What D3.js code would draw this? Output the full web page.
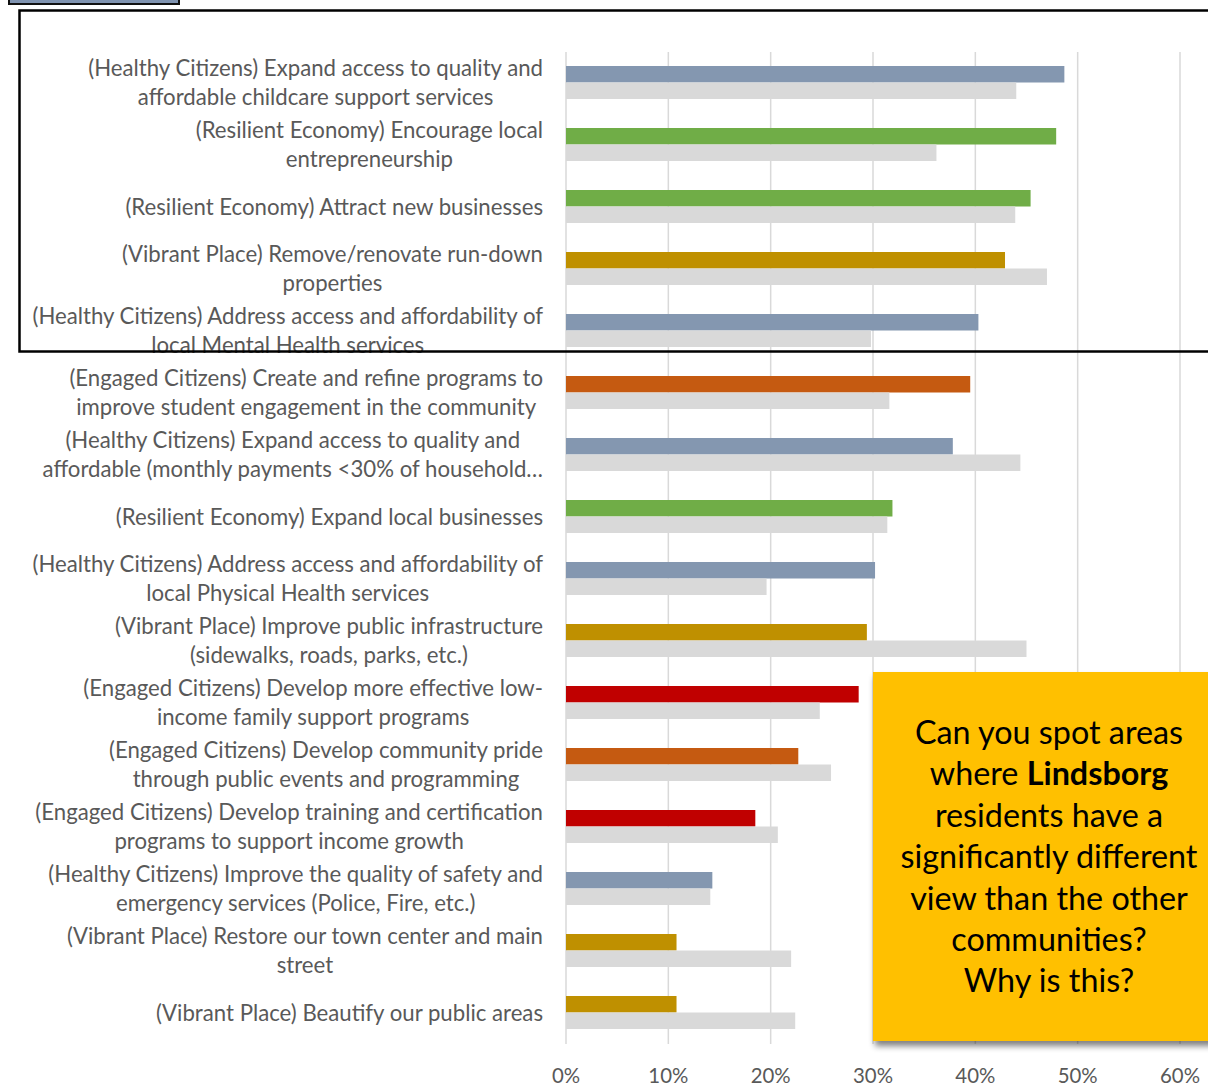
<!DOCTYPE html>
<html><head><meta charset="utf-8">
<script src="https://cdn.jsdelivr.net/npm/d3@7/dist/d3.min.js"></script>
<style>
html,body{margin:0;padding:0;background:#fff;}
svg{display:block;}
</style></head>
<body>
<script>
const categories = [
  "(Healthy Citizens) Expand access to quality and|affordable childcare support services",
  "(Resilient Economy) Encourage local|entrepreneurship",
  "(Resilient Economy) Attract new businesses",
  "(Vibrant Place) Remove/renovate run-down|properties",
  "(Healthy Citizens) Address access and affordability of|local Mental Health services",
  "(Engaged Citizens) Create and refine programs to|improve student engagement in the community",
  "(Healthy Citizens) Expand access to quality and|affordable (monthly payments <30% of household…",
  "(Resilient Economy) Expand local businesses",
  "(Healthy Citizens) Address access and affordability of|local Physical Health services",
  "(Vibrant Place) Improve public infrastructure|(sidewalks, roads, parks, etc.)",
  "(Engaged Citizens) Develop more effective low-|income family support programs",
  "(Engaged Citizens) Develop community pride|through public events and programming",
  "(Engaged Citizens) Develop training and certification|programs to support income growth",
  "(Healthy Citizens) Improve the quality of safety and|emergency services (Police, Fire, etc.)",
  "(Vibrant Place) Restore our town center and main|street",
  "(Vibrant Place) Beautify our public areas"
];
const themes = ["Healthy","Resilient","Resilient","Vibrant","Healthy","EngagedA","Healthy","Resilient","Healthy","Vibrant","EngagedB","EngagedA","EngagedB","Healthy","Vibrant","Vibrant"];
const lindsborg = [0.487,0.479,0.454,0.429,0.403,0.395,0.378,0.319,0.302,0.294,0.286,0.227,0.185,0.143,0.108,0.108];
const others    = [0.440,0.362,0.439,0.470,0.298,0.316,0.444,0.314,0.196,0.450,0.248,0.259,0.207,0.141,0.220,0.224];
const ticks = [0,0.1,0.2,0.3,0.4,0.5,0.6];
const themeColors = {Healthy:"#8497B0",Resilient:"#70AD47",Vibrant:"#BF9000",EngagedA:"#C55A11",EngagedB:"#C00000"};
const otherColor = "#D9D9D9";
const calloutLines = [["Can you spot areas"],["where ","Lindsborg"],["residents have a"],["significantly different"],["view than the other"],["communities?"],["Why is this?"]];

const W=1208,H=1090;
const svg=d3.select("body").append("svg").attr("width",W).attr("height",H);
const font="Lato, 'Open Sans', sans-serif";

// size font so that a reference string matches its width in the picture
function fitSize(str,target,base){
  const t=svg.append("text").attr("font-family",font).attr("font-size",base).text(str);
  const w=t.node().getComputedTextLength(); t.remove();
  return base*target/w;
}
const labelSize=fitSize("(Healthy Citizens) Expand access to quality and",455,20);
const calloutSize=fitSize("significantly different",297,30);
const tickSize=fitSize("60%",40,20);

const x=d3.scaleLinear().domain([0,0.6]).range([566,1180]);
const y=d3.scaleBand().domain(d3.range(categories.length)).range([52,1044]).paddingInner(0).paddingOuter(0);
const barH=16.5;

// gridlines
svg.append("g").selectAll("line").data(ticks).join("line")
  .attr("x1",d=>x(d)).attr("x2",d=>x(d)).attr("y1",52).attr("y2",1044)
  .attr("stroke","#D9D9D9").attr("stroke-width",1.5);

// bars
const g=svg.append("g");
g.selectAll("rect.l").data(lindsborg).join("rect").attr("class","l")
  .attr("x",x(0)).attr("y",(d,i)=>y(i)+14).attr("width",d=>x(d)-x(0)).attr("height",barH)
  .attr("fill",(d,i)=>themeColors[themes[i]]);
g.selectAll("rect.o").data(others).join("rect").attr("class","o")
  .attr("x",x(0)).attr("y",(d,i)=>y(i)+14+barH).attr("width",d=>x(d)-x(0)).attr("height",barH)
  .attr("fill",otherColor);

// axis labels
svg.append("g").selectAll("text").data(ticks).join("text")
  .attr("x",d=>x(d)).attr("y",1083).attr("text-anchor","middle")
  .attr("font-family",font).attr("font-size",tickSize).attr("fill","#595959")
  .text(d=>d3.format(".0%")(d));

// category labels
const lab=svg.append("g");
categories.forEach((c,i)=>{
  const lines=c.split("|");
  const cy=y(i)+y.bandwidth()/2;
  const grp=lab.append("g");
  const texts=lines.map((ln,j)=>grp.append("text")
    .attr("y",cy+(j-(lines.length-1)/2)*29.5+7.5)
    .attr("font-family",font).attr("font-size",labelSize).attr("fill","#595959")
    .attr("text-anchor","middle").text(ln));
  const widths=texts.map(t=>t.node().getComputedTextLength());
  const maxW=d3.max(widths);
  const cx=543-maxW/2;
  texts.forEach(t=>t.attr("x",cx));
});

// big border rectangle
svg.append("rect").attr("x",19.5).attr("y",10.5).attr("width",1200).attr("height",341)
  .attr("fill","none").attr("stroke","#000").attr("stroke-width",2.5);
// small top-left box
svg.append("rect").attr("x",9).attr("y",-5).attr("width",170).attr("height",9)
  .attr("fill","#7F93B0").attr("stroke","#111").attr("stroke-width",2);

// callout
const defs=svg.append("defs");
const f=defs.append("filter").attr("id","sh").attr("x","-10%").attr("y","-10%").attr("width","130%").attr("height","130%");
f.append("feGaussianBlur").attr("in","SourceAlpha").attr("stdDeviation",3);
f.append("feOffset").attr("dx",2).attr("dy",5).attr("result","b");
f.append("feComponentTransfer").append("feFuncA").attr("type","linear").attr("slope",0.5);
const m=f.append("feMerge"); m.append("feMergeNode"); m.append("feMergeNode").attr("in","SourceGraphic");
svg.append("rect").attr("x",873).attr("y",672).attr("width",345).attr("height",369)
  .attr("fill","#FFC000").attr("filter","url(#sh)");
const ct=svg.append("g");
calloutLines.forEach((parts,j)=>{
  const t=ct.append("text").attr("x",1049).attr("y",744+j*41.4).attr("text-anchor","middle")
    .attr("font-family",font).attr("font-size",calloutSize).attr("fill","#000");
  parts.forEach((p,k)=>t.append("tspan").attr("font-weight",k===1?"bold":"normal").text(p));
});
</script>
</body></html>
